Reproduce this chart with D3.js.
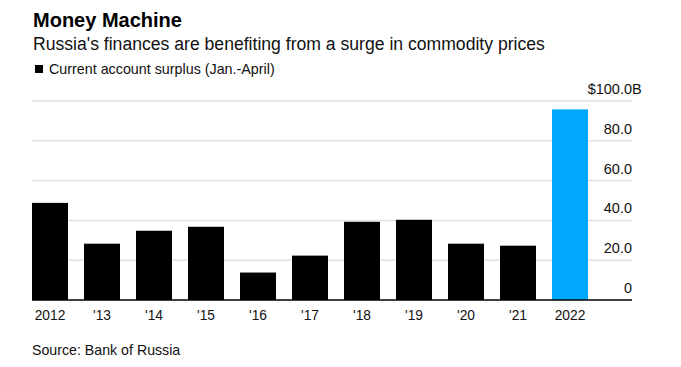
<!DOCTYPE html>
<html>
<head>
<meta charset="utf-8">
<script src="https://cdn.jsdelivr.net/npm/d3@7"></script>
<style>
  body { margin: 0; background: #fff; }
  text { font-family: "Liberation Sans", Arial, sans-serif; }
</style>
</head>
<body>
<div class="visHolder"></div>
<script>
const width = 681;
const height = 367;

// data
const years = ["2012", "'13", "'14", "'15", "'16", "'17", "'18", "'19", "'20", "'21", "2022"];
const surplus = [48.8, 28.3, 34.8, 36.8, 13.8, 22.3, 39.3, 40.3, 28.3, 27.3, 95.8];
const yTicks = [0, 20, 40, 60, 80, 100];
const yTickLabels = ["0", "20.0", "40.0", "60.0", "80.0", "$100.0"];

let svg = d3
    .select(".visHolder")
    .append("svg")
    .attr("width", width)
    .attr("height", height);

// titles
svg.append("text")
    .attr("x", 33)
    .attr("y", 27)
    .attr("font-size", 20)
    .attr("font-weight", "bold")
    .attr("fill", "#000")
    .text("Money Machine");

svg.append("text")
    .attr("x", 33)
    .attr("y", 50)
    .attr("font-size", 17.6)
    .attr("fill", "#111")
    .text("Russia's finances are benefiting from a surge in commodity prices");

svg.append("rect")
    .attr("x", 35)
    .attr("y", 65)
    .attr("width", 8)
    .attr("height", 8)
    .attr("fill", "#000");

svg.append("text")
    .attr("x", 49)
    .attr("y", 74)
    .attr("font-size", 14.3)
    .attr("fill", "#111")
    .text("Current account surplus (Jan.-April)");

const xScale = d3
    .scaleBand()
    .domain(years)
    .range([24, 24 + 52 * years.length])
    .paddingInner(16 / 52)
    .paddingOuter(8 / 52);

const yScale = d3.scaleLinear().domain([0, 100]).range([300, 101]);

const gridLeft = 32;
const gridRight = 632;

// gridlines
svg.append("g")
    .selectAll("line")
    .data(yTicks.filter((d) => d > 0))
    .enter()
    .append("line")
    .attr("x1", gridLeft)
    .attr("x2", gridRight)
    .attr("y1", (d) => yScale(d))
    .attr("y2", (d) => yScale(d))
    .attr("stroke", "#e2e2e2")
    .attr("stroke-width", 1.5);

// y labels
const yLabels = svg.append("g");
yLabels.selectAll("text")
    .data(yTicks)
    .enter()
    .append("text")
    .attr("x", gridRight)
    .attr("y", (d) => yScale(d) - 7)
    .attr("text-anchor", "end")
    .attr("font-size", 14.5)
    .attr("fill", "#111")
    .text((d, i) => yTickLabels[i]);

yLabels.append("text")
    .attr("x", gridRight)
    .attr("y", yScale(100) - 7)
    .attr("font-size", 14.5)
    .attr("fill", "#111")
    .text("B");

// bars
svg.append("g")
    .selectAll("rect")
    .data(surplus)
    .enter()
    .append("rect")
    .attr("x", (d, i) => xScale(years[i]))
    .attr("y", (d) => yScale(d))
    .attr("width", xScale.bandwidth())
    .attr("height", (d) => yScale(0) - yScale(d))
    .attr("fill", (d, i) => (i === years.length - 1 ? "#00a9ff" : "#000"));

// baseline
svg.append("line")
    .attr("x1", gridLeft)
    .attr("x2", gridRight)
    .attr("y1", yScale(0))
    .attr("y2", yScale(0))
    .attr("stroke", "#000")
    .attr("stroke-width", 1.5);

// x labels
svg.append("g")
    .selectAll("text")
    .data(years)
    .enter()
    .append("text")
    .attr("x", (d) => xScale(d) + xScale.bandwidth() / 2)
    .attr("y", 320)
    .attr("text-anchor", "middle")
    .attr("font-size", 13.8)
    .attr("fill", "#111")
    .text((d) => d);

svg.append("text")
    .attr("x", 32)
    .attr("y", 355)
    .attr("font-size", 14.2)
    .attr("fill", "#111")
    .text("Source: Bank of Russia");
</script>
</body>
</html>
